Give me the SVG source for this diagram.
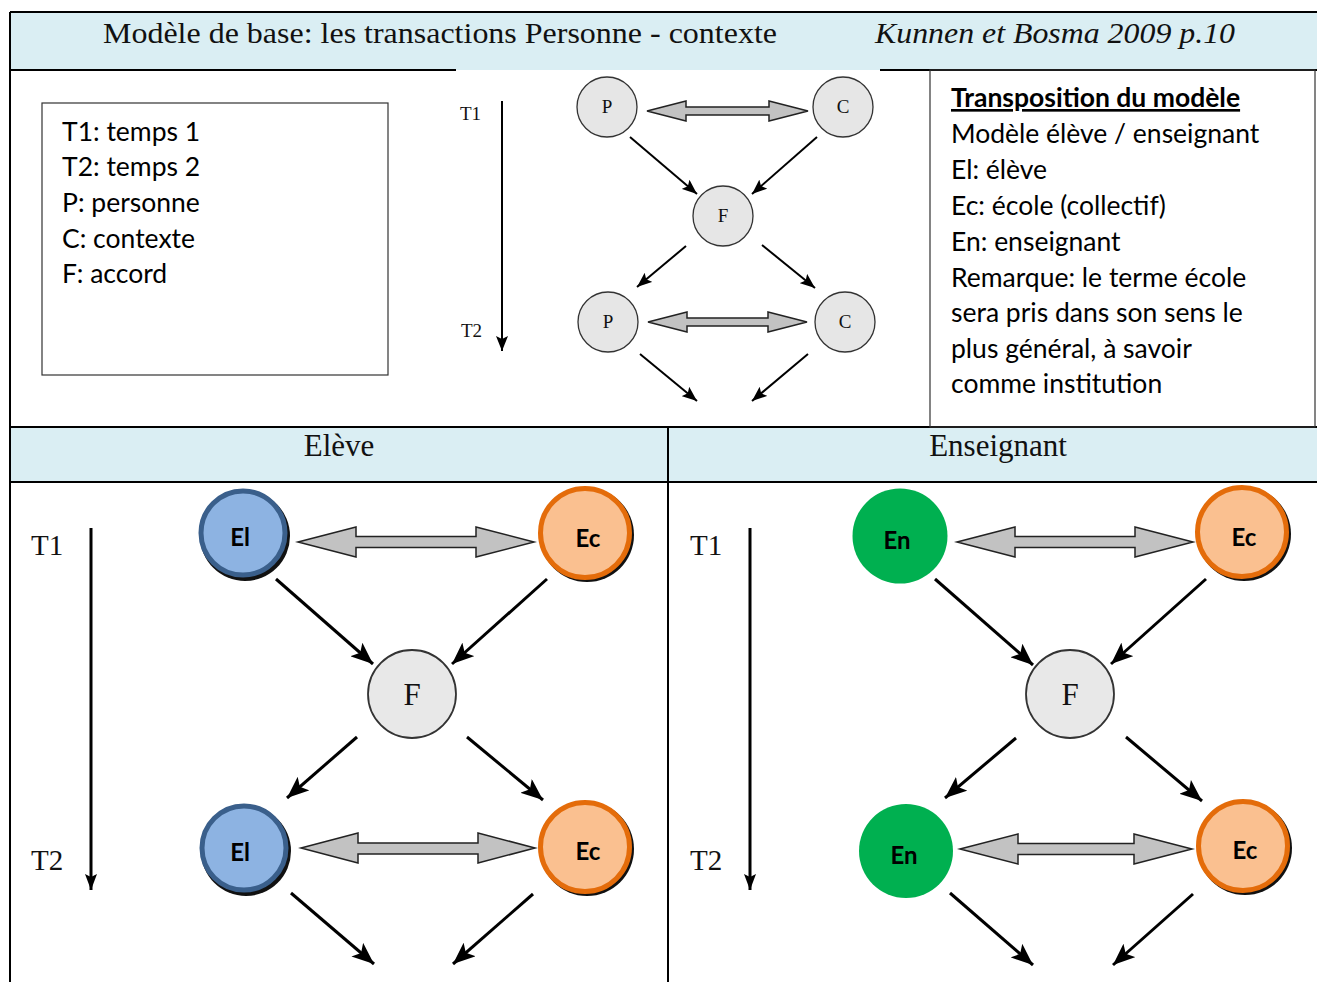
<svg xmlns="http://www.w3.org/2000/svg" width="1317" height="982" viewBox="0 0 1317 982">
<defs>
<style>
.band{fill:#daeef3}
.rule{stroke:#000;stroke-width:2;fill:none}
.serif{font-family:"Liberation Serif","Times New Roman",serif;fill:#111}
.sans{font-family:Lato,"Liberation Sans",sans-serif;fill:#000}
.lbl{font-family:Lato,"Liberation Sans",sans-serif;font-weight:bold;font-size:24px;fill:#000;text-anchor:middle}
.gnode{fill:#e6e6e6;stroke:#333;stroke-width:1.3}
.fnode{fill:#e8e8e8;stroke:#333;stroke-width:1.8}
.dbl{fill:#c2c2c2;stroke:#222;stroke-width:1.5;stroke-linejoin:miter}
.arr{stroke:#000;stroke-width:3;fill:none;marker-end:url(#ah)}
.arrs{stroke:#000;stroke-width:2;fill:none;marker-end:url(#ahs)}
.el{fill:#8db3e2;stroke:#3a5f8b;stroke-width:5}
.ec{fill:#fac090;stroke:#e46c0a;stroke-width:5}
.en{fill:#00b050}
.shadow{fill:#111}
</style>
<marker id="ah" markerWidth="24" markerHeight="18" refX="22" refY="9" orient="auto" markerUnits="userSpaceOnUse"><path d="M0,0 L22,9 L0,18 L5,9 z" fill="#000"/></marker>
<marker id="ahs" markerWidth="16" markerHeight="12" refX="15" refY="6" orient="auto" markerUnits="userSpaceOnUse"><path d="M0,0 L15,6 L0,12 L3,6 z" fill="#000"/></marker>
<marker id="ahv" markerWidth="18" markerHeight="12" refX="16" refY="6" orient="auto" markerUnits="userSpaceOnUse"><path d="M0,0 L16,6 L0,12 L3,6 z" fill="#000"/></marker>
</defs>

<g id="table">
<rect class="band" x="10" y="12" width="1307" height="58"/>
<rect class="band" x="10" y="427" width="1307" height="55"/>
<line class="rule" x1="10" y1="12" x2="1317" y2="12"/>
<line class="rule" x1="10" y1="70" x2="456" y2="70"/>
<line class="rule" x1="880" y1="70" x2="1317" y2="70"/>
<line class="rule" x1="10" y1="427" x2="1317" y2="427"/>
<line class="rule" x1="10" y1="482" x2="1317" y2="482"/>
<line class="rule" x1="10" y1="12" x2="10" y2="982"/>
<line class="rule" x1="668" y1="427" x2="668" y2="982"/>
<rect x="930" y="70" width="385" height="357" fill="none" stroke="#333" stroke-width="1.2"/>
<text class="serif" x="103" y="43" font-size="29" textLength="674" lengthAdjust="spacingAndGlyphs">Modèle de base: les transactions Personne - contexte</text>
<text class="serif" x="875" y="43" font-size="29" font-style="italic" textLength="360" lengthAdjust="spacingAndGlyphs">Kunnen et Bosma 2009 p.10</text>
<text class="serif" x="339" y="456" font-size="31" text-anchor="middle">Elève</text>
<text class="serif" x="998" y="456" font-size="31" text-anchor="middle">Enseignant</text>
</g>

<g id="legend">
<rect x="42" y="103" width="346" height="272" fill="#fff" stroke="#333" stroke-width="1.2"/>
<text class="sans" font-size="26.5" x="62" y="141">T1: temps 1</text>
<text class="sans" font-size="26.5" x="62" y="176">T2: temps 2</text>
<text class="sans" font-size="26.5" x="62" y="212">P: personne</text>
<text class="sans" font-size="26.5" x="62" y="248">C: contexte</text>
<text class="sans" font-size="26.5" x="62" y="283">F: accord</text>
</g>

<g id="transposition">
<text class="sans" font-size="26.5" font-weight="bold" x="951" y="107" text-decoration="underline">Transposition du modèle</text>
<text class="sans" font-size="26.5" x="951" y="143">Modèle élève / enseignant</text>
<text class="sans" font-size="26.5" x="951" y="179">El: élève</text>
<text class="sans" font-size="26.5" x="951" y="215">Ec: école (collectif)</text>
<text class="sans" font-size="26.5" x="951" y="251">En: enseignant</text>
<text class="sans" font-size="26.5" x="951" y="287">Remarque: le terme école</text>
<text class="sans" font-size="26.5" x="951" y="322">sera pris dans son sens le</text>
<text class="sans" font-size="26.5" x="951" y="358">plus général, à savoir</text>
<text class="sans" font-size="26.5" x="951" y="393">comme institution</text>
</g>

<!-- Top model (Kunnen & Bosma) -->
<g id="top-time">
<text class="serif" x="460" y="120" font-size="19">T1</text>
<text class="serif" x="461" y="337" font-size="19">T2</text>
</g>
<g id="top-P1"><circle class="gnode" cx="607" cy="107" r="30"/><text class="serif" x="607" y="113" font-size="19" text-anchor="middle">P</text></g>
<g id="top-C1"><circle class="gnode" cx="843" cy="107" r="30"/><text class="serif" x="843" y="113" font-size="19" text-anchor="middle">C</text></g>
<g id="top-F"><circle class="gnode" cx="723" cy="216" r="30"/><text class="serif" x="723" y="222" font-size="19" text-anchor="middle">F</text></g>
<g id="top-P2"><circle class="gnode" cx="608" cy="322" r="30"/><text class="serif" x="608" y="328" font-size="19" text-anchor="middle">P</text></g>
<g id="top-C2"><circle class="gnode" cx="845" cy="322" r="30"/><text class="serif" x="845" y="328" font-size="19" text-anchor="middle">C</text></g>

<!-- Eleve panel -->
<g id="el-time">
<text class="serif" x="31" y="555" font-size="29">T1</text>
<text class="serif" x="31" y="870" font-size="29">T2</text>
</g>
<g id="el-El1"><circle class="shadow" cx="245" cy="536" r="45"/><circle class="el" cx="243" cy="533" r="42"/><text class="lbl" x="240" y="546">El</text></g>
<g id="el-Ec1"><circle class="shadow" cx="587" cy="535" r="47"/><circle class="ec" cx="585" cy="533" r="44.5"/><text class="lbl" x="588" y="547">Ec</text></g>
<g id="el-F"><circle class="fnode" cx="412" cy="694" r="44"/><text class="serif" x="412" y="705" font-size="31" text-anchor="middle">F</text></g>
<g id="el-El2"><circle class="shadow" cx="246" cy="851" r="45"/><circle class="el" cx="244" cy="848" r="42"/><text class="lbl" x="240" y="861">El</text></g>
<g id="el-Ec2"><circle class="shadow" cx="587" cy="849" r="47"/><circle class="ec" cx="585" cy="847" r="44.5"/><text class="lbl" x="588" y="860">Ec</text></g>

<!-- Enseignant panel -->
<g id="en-time">
<text class="serif" x="690" y="555" font-size="29">T1</text>
<text class="serif" x="690" y="870" font-size="29">T2</text>
</g>
<g id="en-En1"><circle class="en" cx="900" cy="536" r="47.5"/><text class="lbl" x="897" y="549">En</text></g>
<g id="en-Ec1"><circle class="shadow" cx="1244" cy="534" r="47"/><circle class="ec" cx="1242" cy="532" r="44.5"/><text class="lbl" x="1244" y="546">Ec</text></g>
<g id="en-F"><circle class="fnode" cx="1070" cy="694" r="44"/><text class="serif" x="1070" y="705" font-size="31" text-anchor="middle">F</text></g>
<g id="en-En2"><circle class="en" cx="906" cy="851" r="47"/><text class="lbl" x="904" y="864">En</text></g>
<g id="en-Ec2"><circle class="shadow" cx="1245" cy="848" r="47"/><circle class="ec" cx="1243" cy="846" r="44.5"/><text class="lbl" x="1245" y="859">Ec</text></g>

<g id="connectors">
<!-- top -->
<line x1="502" y1="101" x2="502" y2="351" stroke="#000" stroke-width="2" marker-end="url(#ahs)"/>
<path class="dbl" d="M647,111 L686,101 L686,107 L769,107 L769,101 L808,111 L769,121 L769,115 L686,115 L686,121 Z"/>
<path class="dbl" d="M648,322 L687,312 L687,318 L768,318 L768,312 L807,322 L768,332 L768,326 L687,326 L687,332 Z"/>
<line class="arrs" x1="630" y1="137" x2="697" y2="194"/>
<line class="arrs" x1="817" y1="137" x2="752" y2="194"/>
<line class="arrs" x1="686" y1="246" x2="637" y2="287"/>
<line class="arrs" x1="762" y1="245" x2="815" y2="288"/>
<line class="arrs" x1="640" y1="354" x2="697" y2="401"/>
<line class="arrs" x1="808" y1="354" x2="752" y2="401"/>
<!-- eleve -->
<line x1="91" y1="528" x2="91" y2="890" stroke="#000" stroke-width="3" marker-end="url(#ahv)"/>
<path class="dbl" d="M298,542 L356,527 L356,536.5 L476,536.5 L476,527 L534,542 L476,557 L476,547.5 L356,547.5 L356,557 Z"/>
<path class="dbl" d="M301,848 L358,833 L358,843 L478,843 L478,833 L535,848 L478,863 L478,854 L358,854 L358,863 Z"/>
<line class="arr" x1="276" y1="579" x2="373" y2="664"/>
<line class="arr" x1="547" y1="579" x2="452" y2="664"/>
<line class="arr" x1="357" y1="737" x2="287" y2="798"/>
<line class="arr" x1="467" y1="737" x2="543" y2="800"/>
<line class="arr" x1="291" y1="893" x2="374" y2="964"/>
<line class="arr" x1="533" y1="894" x2="453" y2="964"/>
<!-- enseignant -->
<line x1="750" y1="528" x2="750" y2="890" stroke="#000" stroke-width="3" marker-end="url(#ahv)"/>
<path class="dbl" d="M957,542 L1015,527 L1015,536.5 L1135,536.5 L1135,527 L1193,542 L1135,557 L1135,547.5 L1015,547.5 L1015,557 Z"/>
<path class="dbl" d="M960,849 L1018,834 L1018,843.5 L1134,843.5 L1134,834 L1192,849 L1134,864 L1134,854.5 L1018,854.5 L1018,864 Z"/>
<line class="arr" x1="935" y1="579" x2="1033" y2="665"/>
<line class="arr" x1="1206" y1="579" x2="1111" y2="664"/>
<line class="arr" x1="1016" y1="738" x2="945" y2="798"/>
<line class="arr" x1="1126" y1="737" x2="1202" y2="801"/>
<line class="arr" x1="950" y1="893" x2="1033" y2="965"/>
<line class="arr" x1="1193" y1="894" x2="1113" y2="965"/>
</g>
</svg>
